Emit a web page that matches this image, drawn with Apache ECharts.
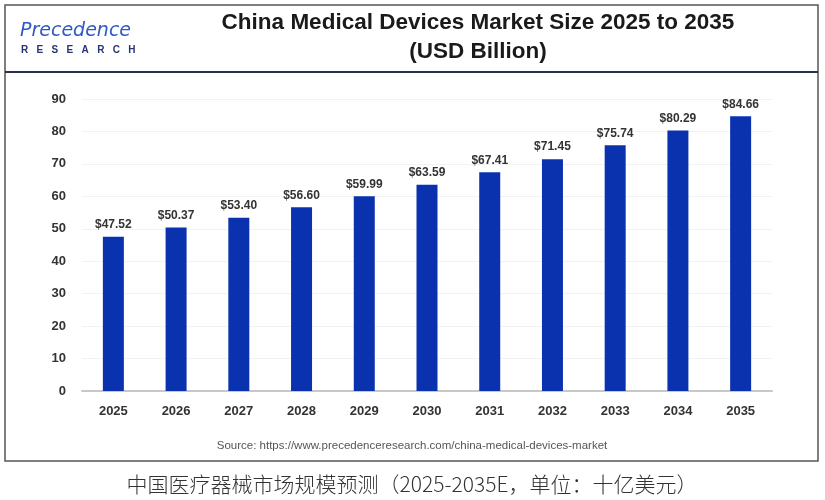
<!DOCTYPE html>
<html>
<head>
<meta charset="utf-8">
<script src="https://cdn.jsdelivr.net/npm/echarts@6/dist/echarts.min.js"></script>
<style>
    html, body { margin: 0; padding: 0; background: #fff; }
    #chart { width: 825px; height: 500px; }
</style>
</head>
<body>
<div id="chart"></div>
<script>
"use strict";
const years = ['2025', '2026', '2027', '2028', '2029', '2030', '2031', '2032', '2033', '2034', '2035'];
const marketSize = [47.52, 50.37, 53.40, 56.60, 59.99, 63.59, 67.41, 71.45, 75.74, 80.29, 84.66];
const yTicks = [0, 10, 20, 30, 40, 50, 60, 70, 80, 90];

(() => {
    let chart = echarts.init(document.getElementById('chart'));
    let option = {
        animation: false,
        backgroundColor: '#fff',
        grid: { left: 82, right: 53, top: 99, bottom: 109 },
        xAxis: {
            type: 'category',
            data: years,
            axisLine: { lineStyle: { color: '#c8c8c8', width: 2 } },
            axisTick: { show: false },
            axisLabel: { color: '#333', fontFamily: 'Arial, Liberation Sans', fontWeight: 'bold', fontSize: 13, margin: 14 }
        },
        yAxis: {
            type: 'value',
            min: yTicks[0],
            max: yTicks[yTicks.length - 1],
            interval: 10,
            axisLine: { show: false },
            axisTick: { show: false },
            splitLine: { lineStyle: { color: '#f2f2f2' } },
            axisLabel: { color: '#333', fontFamily: 'Arial, Liberation Sans', fontWeight: 'bold', fontSize: 13, margin: 16 }
        },
        series: [{
            type: 'bar',
            data: marketSize,
            barWidth: 21,
            itemStyle: { color: '#0b32ae' },
            label: {
                show: true,
                position: 'top',
                distance: 6,
                color: '#333',
                fontFamily: 'Arial, Liberation Sans',
                fontWeight: 'bold',
                fontSize: 12,
                formatter: p => '$' + p.value.toFixed(2)
            }
        }],
        graphic: [
            // outer frame
            { type: 'rect', shape: { x: 5, y: 5, width: 813, height: 456 }, style: { fill: 'none', stroke: '#555', lineWidth: 1.5 }, z: -1 },
            // header separator
            { type: 'line', shape: { x1: 5, y1: 72, x2: 818, y2: 72 }, style: { stroke: '#2a2f4a', lineWidth: 2 } },
            // logo
            { type: 'text', left: 20, top: 22, style: { text: 'Precedence', fill: '#2d58c6', font: 'italic 19px "DejaVu Sans", sans-serif' } },
            { type: 'text', left: 21, top: 45, style: { text: 'R   E   S   E   A   R   C   H', fill: '#2b3470', font: 'bold 10px "Liberation Sans", Arial' } },
            // title
            { type: 'text', x: 478, y: 23, style: { text: 'China Medical Devices Market Size 2025 to 2035', fill: '#1a1a1a', font: 'bold 22.5px "Liberation Sans", Arial', align: 'center', verticalAlign: 'middle' } },
            { type: 'text', x: 478, y: 52, style: { text: '(USD Billion)', fill: '#1a1a1a', font: 'bold 22.5px "Liberation Sans", Arial', align: 'center', verticalAlign: 'middle' } },
            // source
            { type: 'text', x: 412, y: 446, style: { text: 'Source: https://www.precedenceresearch.com/china-medical-devices-market', fill: '#555', font: '11.5px "Liberation Sans", Arial', align: 'center', verticalAlign: 'middle' } },
            // caption
            { type: 'text', x: 412, y: 484, style: { text: '中国医疗器械市场规模预测（2025-2035E，单位：十亿美元）', fill: '#333', font: '300 21px "Noto Sans CJK SC"', align: 'center', verticalAlign: 'middle' } }
        ]
    };
    chart.setOption(option);
})();
</script>
</body>
</html>
